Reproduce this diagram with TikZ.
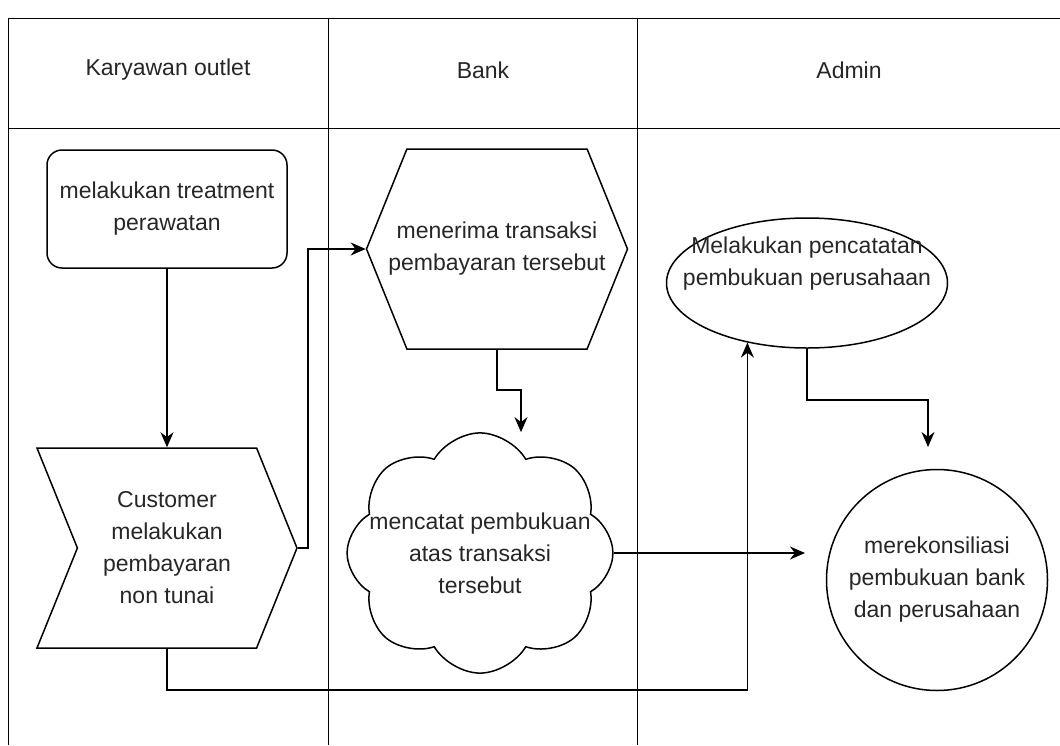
\documentclass[tikz,border=0pt]{standalone}
\usepackage{fontspec}
\setmainfont{Liberation Sans}
\usetikzlibrary{shapes.geometric,shapes.symbols,arrows.meta}

\begin{document}
\begin{tikzpicture}[x=1pt, y=-1pt,
    box/.style={draw, line width=1.5pt, align=center, inner sep=0pt,
      font=\fontsize{23}{32}\selectfont, text=black!85},
    judul/.style={font=\fontsize{23}{32}\selectfont, text=black!85},
    arr/.style={line width=1.5pt, -{Stealth[length=15pt,width=13pt]}},
    lane/.style={line width=1pt}]

  \useasboundingbox (0,0) rectangle (1060,745);

  % Kolom swimlane
  \draw[lane] (8,745) -- (8,18) -- (1060,18);
  \draw[lane] (8,128) -- (1060,128);
  \draw[lane] (328,18) -- (328,745);
  \draw[lane] (637,18) -- (637,745);

  % Judul kolom
  \node[judul] (karyawan) at (168,70) {Karyawan outlet};
  \node[judul] (bank) at (483,70) {Bank};
  \node[judul] (admin) at (849,70) {Admin};

  % Karyawan outlet
  \node[box, rounded corners=15pt, minimum width=240pt, minimum height=118pt]
    (treatment) at (167,209) {melakukan treatment\\perawatan};
  \node[box, signal, signal from=west, signal to=east, signal pointer angle=136,
    minimum width=260pt, minimum height=200pt]
    (bayar) at (167,548) {Customer\\melakukan\\pembayaran\\non tunai};

  % Bank
  \node[box, signal, signal to=west and east, signal pointer angle=136,
    inner xsep=-20pt, minimum width=261pt, minimum height=200pt]
    (terima) at (497,249) {menerima transaksi\\pembayaran tersebut};
  \node[box, cloud, cloud puffs=8, cloud puff arc=120, aspect=1.18,
    inner xsep=-26pt, inner ysep=-20pt]
    (catat) at (480,553) {mencatat pembukuan\\atas transaksi\\tersebut};

  % Admin
  \node[box, ellipse, inner xsep=-40pt, inner ysep=-25pt,
    minimum width=281pt, minimum height=130pt]
    (pencatatan) at (807,283) {Melakukan pencatatan\\pembukuan perusahaan\\[12pt]~};
  \node[box, circle, minimum size=221pt]
    (rekon) at (937,580) {merekonsiliasi\\pembukuan bank\\dan perusahaan};

  % Ujung panah yang bebas
  \coordinate (rekonkiri) at (805,549);
  \coordinate (rekonatas) at (928,447);

  % Alur
  \draw[arr] (treatment.south) -- (bayar.north);
  \draw[arr] (bayar.east) -- ([xshift=10pt]bayar.east) |- (terima.west);
  \draw[arr] (terima.south) -- ++(0,40) -| ([xshift=41pt]catat.north);
  \draw[arr] (catat.east) -- (catat.east -| rekonkiri);
  \draw[arr] (pencatatan.south) -- ++(0,51) -| (rekonatas);
  \draw[arr] (bayar.south) -- ++(0,41) -| (pencatatan.-135.5);

\end{tikzpicture}
\end{document}
